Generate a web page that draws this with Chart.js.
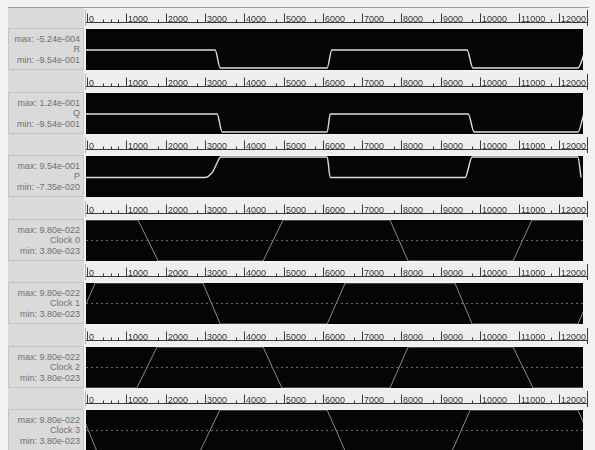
<!DOCTYPE html>
<html>
<head>
<meta charset="utf-8">
<title>Waveforms</title>
<script src="https://cdn.jsdelivr.net/npm/chart.js@4.4.0/dist/chart.umd.min.js"></script>
<style>
  body { margin: 0; width: 595px; height: 450px; overflow: hidden; position: relative;
         background: #f2f2f2; font-family: "Liberation Sans", Arial, sans-serif; }
  #topline { position: absolute; left: 8px; top: 7px; width: 581px; height: 1px; background: #9c9c9c; }
  #side { position: absolute; left: 8px; top: 8px; width: 76px; height: 442px; background: #dadada; }
  .cell { position: absolute; left: 8px; width: 74px; height: 40px; border: 1px solid #c4c4c4; }
  .lab { position: absolute; right: 3px; font-size: 9px; line-height: 10px; color: #707070; white-space: nowrap; }
  canvas { position: absolute; left: 84px; }
</style>
</head>
<body>
<div id="topline"></div>
<div id="side"></div>
<script>
// Panel labels
const panelNames = ['R', 'Q', 'P', 'Clock 0', 'Clock 1', 'Clock 2', 'Clock 3'];
const panelMax = ['max: -5.24e-004', 'max: 1.24e-001', 'max: 9.54e-001', 'max: 9.80e-022', 'max: 9.80e-022', 'max: 9.80e-022', 'max: 9.80e-022'];
const panelMin = ['min: -9.54e-001', 'min: -9.54e-001', 'min: -7.35e-020', 'min: 3.80e-023', 'min: 3.80e-023', 'min: 3.80e-023', 'min: 3.80e-023'];

// Ruler tick labels (time axis)
const rulerTicks = [0, 1000, 2000, 3000, 4000, 5000, 6000, 7000, 8000, 9000, 10000, 11000, 12000];

// Signal samples: time / level pairs
const rTime = [-25, 3260, 3390, 6110, 6230, 9670, 9820, 12490, 12680];
const rLevel = [-0.0005, -0.0005, -0.954, -0.954, -0.0005, -0.0005, -0.954, -0.954, -0.0005];

const qTime = [-25, 3310, 3440, 6110, 6190, 9700, 9850, 12490, 12640];
const qLevel = [0, 0, -0.954, -0.954, 0, 0, -0.954, -0.954, 0];

const pTime = [-25, 3000, 3210, 3340, 3400, 6110, 6190, 9620, 9800, 12490, 12570];
const pLevel = [0, 0, 0.3, 0.8, 0.954, 0.954, 0, 0, 0.954, 0.954, 0];

const clock0Time = [-25, 1300, 1810, 4480, 4990, 7710, 8170, 10840, 11320, 12650];
const clock0Level = [9.8e-22, 9.8e-22, 3.8e-23, 3.8e-23, 9.8e-22, 9.8e-22, 3.8e-23, 3.8e-23, 9.8e-22, 9.8e-22];

const clock1Time = [-250, 210, 2950, 3390, 6110, 6570, 9360, 9800, 12490, 12950];
const clock1Level = [3.8e-23, 9.8e-22, 9.8e-22, 3.8e-23, 3.8e-23, 9.8e-22, 9.8e-22, 3.8e-23, 3.8e-23, 9.8e-22];

const clock2Time = [-25, 1270, 1780, 4480, 4960, 7710, 8170, 10840, 11350, 12650];
const clock2Level = [3.8e-23, 3.8e-23, 9.8e-22, 9.8e-22, 3.8e-23, 3.8e-23, 9.8e-22, 9.8e-22, 3.8e-23, 3.8e-23];

const clock3Time = [-180, 250, 2880, 3380, 6110, 6570, 9290, 9750, 12490, 12950];
const clock3Level = [9.8e-22, 3.8e-23, 3.8e-23, 9.8e-22, 9.8e-22, 3.8e-23, 3.8e-23, 9.8e-22, 9.8e-22, 3.8e-23];

// faint centre line in the clock panels
const clockMidTime = [-25, 12650];
const clockMidLevel = [5.1e-22, 5.1e-22];

const X_MIN = -25, X_MAX = 12620;
const PLOT_H = 41, RULER_H = 22;

function pts(times, levels) {
    return times.map((t, i) => ({ x: t, y: levels[i] }));
}

// black plot background + ruler above it
const waveFrame = {
    id: 'waveFrame',
    beforeDraw(chart) {
        const { ctx, chartArea: a } = chart;
        ctx.save();
        ctx.fillStyle = '#050505';
        ctx.fillRect(a.left, a.top, a.right - a.left, a.bottom - a.top);
        ctx.restore();
    },
    afterDraw(chart) {
        const { ctx, chartArea: a } = chart;
        const sx = chart.scales.x;
        const base = a.top - 6.5;
        const right = chart.width - 1;
        ctx.save();
        ctx.fillStyle = '#eeeeee';
        ctx.fillRect(a.left, 2, right - a.left, a.top - 4);
        ctx.strokeStyle = '#3a3a3a';
        ctx.lineWidth = 1;
        ctx.beginPath();
        ctx.moveTo(a.left, base);
        ctx.lineTo(right, base);
        ctx.moveTo(right - 0.5, 3);
        ctx.lineTo(right - 0.5, a.top - 3);
        ctx.stroke();
        ctx.strokeStyle = '#b0b0b0';
        ctx.beginPath();
        ctx.moveTo(a.left - 0.5, 3);
        ctx.lineTo(a.left - 0.5, a.top - 3);
        ctx.stroke();

        ctx.strokeStyle = '#3a3a3a';
        ctx.font = '9px "Liberation Sans", Arial, sans-serif';
        ctx.fillStyle = '#333';
        ctx.textBaseline = 'alphabetic';
        let labelEnd = -1;
        for (let v = 0; v <= 12600; v += 200) {
            const x = Math.round(sx.getPixelForValue(v)) + 0.5;
            ctx.beginPath();
            if (rulerTicks.includes(v)) {
                ctx.moveTo(x, base);
                ctx.lineTo(x, base - 9);
                ctx.stroke();
                const txt = String(v);
                ctx.fillText(txt, x + 1.5, base - 1);
                labelEnd = x + 2 + ctx.measureText(txt).width;
            } else if (x > labelEnd + 5) {
                ctx.moveTo(x, base);
                ctx.lineTo(x, base - 3);
                ctx.stroke();
            }
        }
        ctx.restore();
    }
};

function makePanel(i, sets, yMin, yMax) {
    const plotTop = Math.round(29 + 63.5 * i);
    // label cell on the left
    const cell = document.createElement('div');
    cell.className = 'cell';
    cell.style.top = (plotTop - 1) + 'px';
    document.body.appendChild(cell);
    [[panelMax[i], 6], [panelNames[i], 16], [panelMin[i], 27]].forEach(([t, dy]) => {
        const d = document.createElement('div');
        d.className = 'lab';
        d.style.top = (dy - 1) + 'px';
        d.textContent = t;
        cell.appendChild(d);
    });

    const canvas = document.createElement('canvas');
    canvas.width = 505;
    canvas.height = RULER_H + PLOT_H;
    canvas.style.top = (plotTop - RULER_H) + 'px';
    document.body.appendChild(canvas);

    new Chart(canvas.getContext('2d'), {
        type: 'line',
        data: { datasets: sets },
        options: {
            responsive: false,
            animation: false,
            devicePixelRatio: 1,
            layout: { padding: { top: RULER_H, left: 2, right: 6, bottom: 0 } },
            plugins: { legend: { display: false }, tooltip: { enabled: false } },
            elements: { point: { radius: 0 } },
            scales: {
                x: { type: 'linear', min: X_MIN, max: X_MAX, display: false },
                y: { type: 'linear', min: yMin, max: yMax, display: false }
            }
        },
        plugins: [waveFrame]
    });
}

function stepSet(times, levels) {
    return { data: pts(times, levels), borderColor: '#dedede', borderWidth: 1.4, cubicInterpolationMode: 'monotone' };
}
function clockSet(times, levels) {
    return { data: pts(times, levels), borderColor: '#8a8a8a', borderWidth: 1, clip: 0 };
}
function midSet() {
    return { data: pts(clockMidTime, clockMidLevel), borderColor: '#6c6c6c', borderWidth: 1, borderDash: [2, 3] };
}

makePanel(0, [stepSet(rTime, rLevel)], -1.06, 1.11);
makePanel(1, [stepSet(qTime, qLevel)], -1.06, 1.11);
makePanel(2, [stepSet(pTime, pLevel)], -0.91, 1.0);
makePanel(3, [midSet(), clockSet(clock0Time, clock0Level)], 3.8e-23, 9.8e-22);
makePanel(4, [midSet(), clockSet(clock1Time, clock1Level)], 3.8e-23, 9.8e-22);
makePanel(5, [midSet(), clockSet(clock2Time, clock2Level)], 3.8e-23, 9.8e-22);
makePanel(6, [midSet(), clockSet(clock3Time, clock3Level)], 3.8e-23, 9.8e-22);
</script>
</body>
</html>
